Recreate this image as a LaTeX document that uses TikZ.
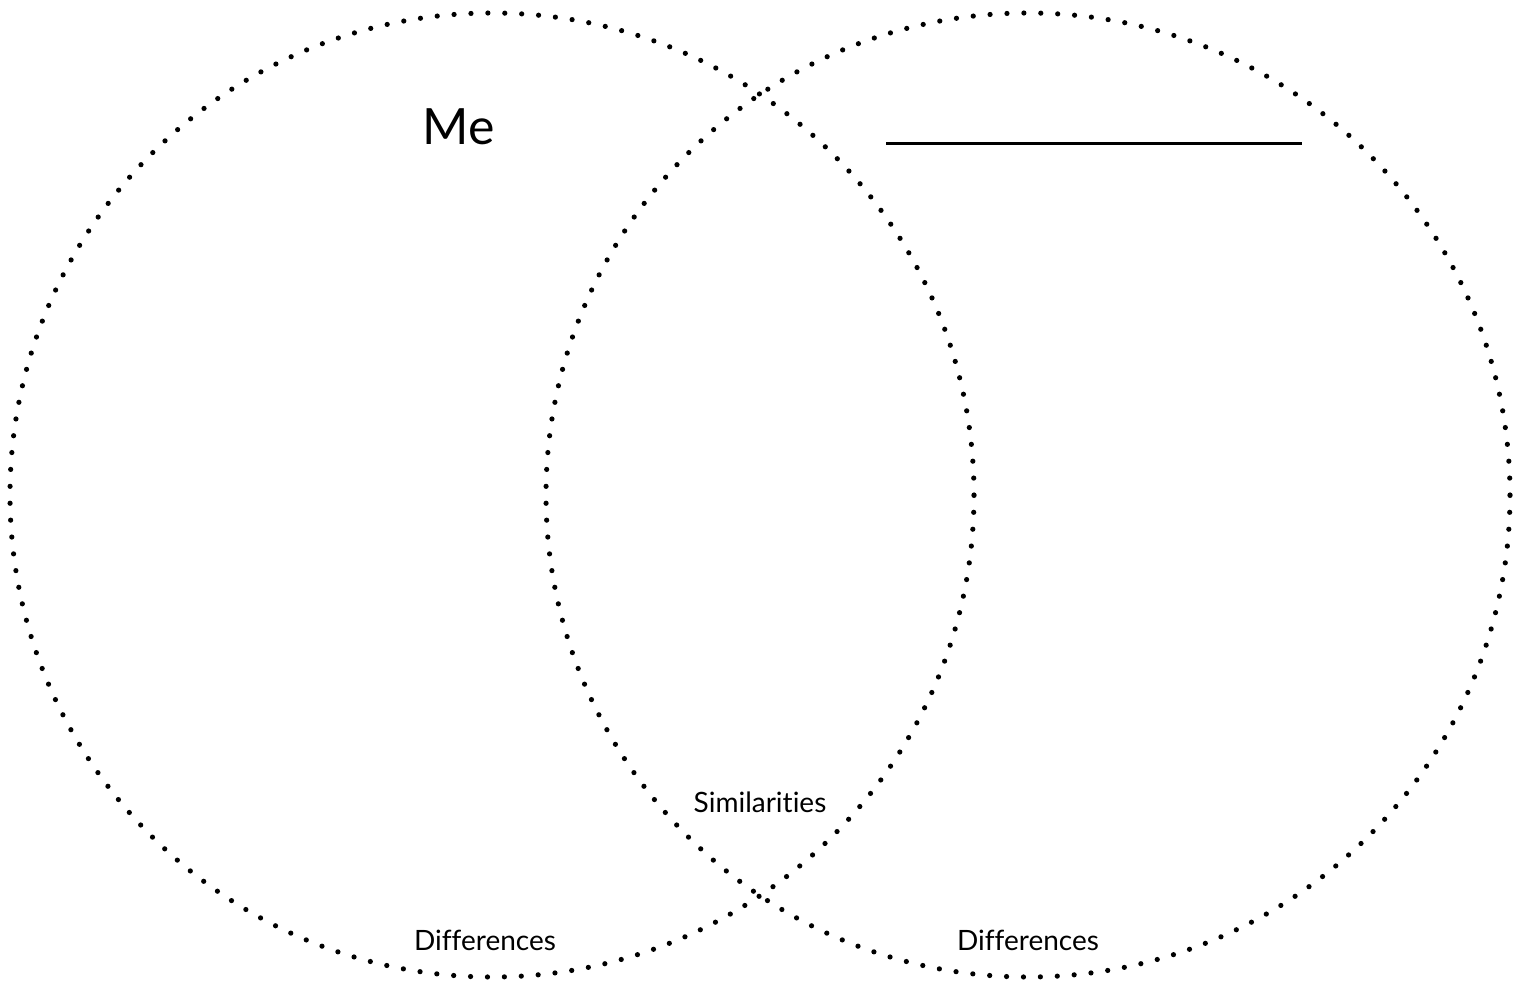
\documentclass[tikz,border=0pt]{standalone}
\usepackage{fontspec}
\setmainfont{Lato}[Ligatures=NoCommon]
\usepackage{tikz}
\usetikzlibrary{positioning}

\tikzset{
  ring/.style = {circle, draw, line width=2.6pt, line cap=round,
                 dash pattern=on 0pt off 8.4595pt, minimum size=482pt, inner sep=0pt},
  label/.style = {font=\fontsize{14}{16}\selectfont}
}

\begin{document}
\begin{tikzpicture}[x=0.5pt, y=-0.5pt]
  \useasboundingbox (0, 0) rectangle (1525, 983);

  \node[ring] (Me) at (492, 495) {};
  \node[ring] (Other) at (1028, 495) {};

  \node[font=\fontsize{25}{30}\selectfont] (MeName) at (459, 127) {Me};
  \coordinate (BlankL) at (886, 144);
  \coordinate (BlankR) at (1302, 144);
  \draw[line width=1.5pt] (BlankL) -- (BlankR);

  \node[label] (Sim) at (760, 802) {Similarities};
  \node[label] (DiffL) at (485, 940) {Differences};
  \node[label] (DiffR) at (1028, 940) {Differences};
\end{tikzpicture}
\end{document}
